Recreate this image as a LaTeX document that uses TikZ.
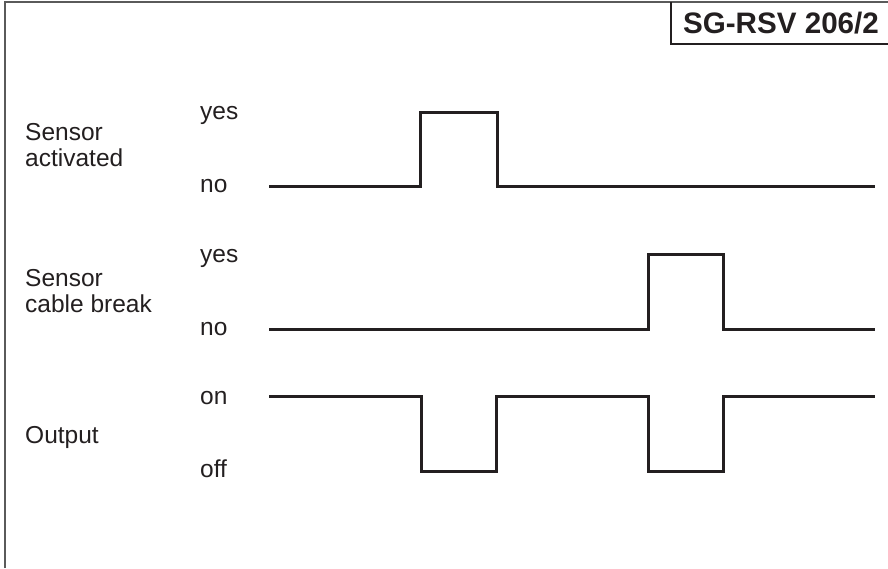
\documentclass[tikz,border=0pt]{standalone}
\usepackage{fontspec}
\setmainfont{Liberation Sans}
\definecolor{ink}{HTML}{231F20}
\definecolor{framegray}{HTML}{5A5A5A}
\tikzset{
  signal/.style={draw=ink, line width=3pt, line join=miter},
  frameline/.style={draw=framegray, line width=2pt},
  titleline/.style={draw=ink, line width=1.4pt},
  label/.style={text=ink, font=\fontsize{24.5}{26}\selectfont, inner sep=0pt, anchor=base west, align=left},
  title/.style={text=ink, font=\fontsize{29.6}{32}\selectfont\bfseries, inner sep=0pt, anchor=base}
}
\begin{document}
\begin{tikzpicture}[x=1pt, y=-1pt]
  \useasboundingbox (0,0) rectangle (888,568);

  % outer frame (left and top edges)
  \draw[frameline] (5,568) -- (5,2) -- (888,2);

  % title box
  \draw[titleline] (671,2) -- (671,44) -- (888,44);
  \node[title] (ttl) at (781,33) {SG-RSV 206/2};

  % signal names (anchored at the baseline of the last line)
  \node[label] (nact) at (25,166) {Sensor\\activated};
  \node[label] (ncab) at (25,312) {Sensor\\cable break};
  \node[label] (nout) at (25,443) {Output};

  % level names
  \node[label] (yes1) at (200,119) {yes};
  \node[label] (no1)  at (200,192) {no};
  \node[label] (yes2) at (200,262) {yes};
  \node[label] (no2)  at (200,335) {no};
  \node[label] (on3)  at (200,404) {on};
  \node[label] (off3) at (200,477) {off};

  % sensor activated
  \draw[signal] (269,186) -- (420,186) -- (420,112) -- (497,112) -- (497,186) -- (875,186);
  % sensor cable break
  \draw[signal] (269,329) -- (648,329) -- (648,254) -- (723,254) -- (723,329) -- (875,329);
  % output
  \draw[signal] (269,396) -- (421,396) -- (421,471) -- (496,471) -- (496,396)
    -- (648,396) -- (648,471) -- (723,471) -- (723,396) -- (875,396);
\end{tikzpicture}
\end{document}
